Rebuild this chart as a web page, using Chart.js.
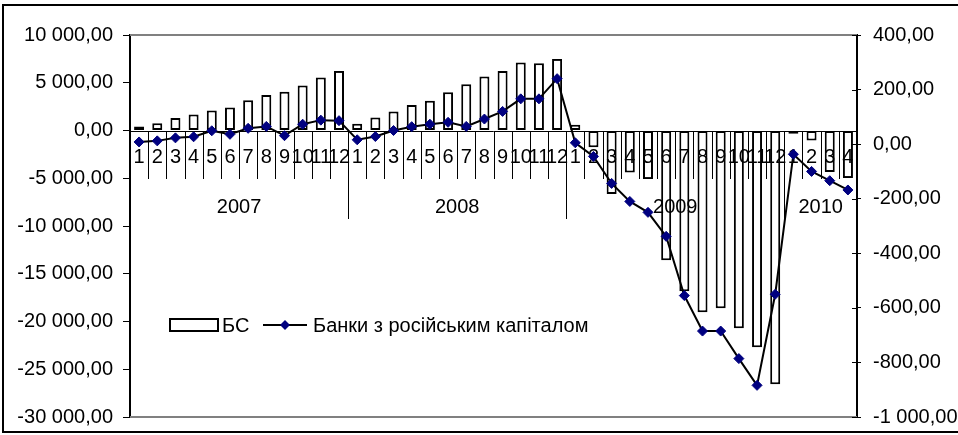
<!DOCTYPE html>
<html>
<head>
<meta charset="utf-8">
<script src="https://cdn.jsdelivr.net/npm/chart.js@4.4.1/dist/chart.umd.min.js"></script>
<style>
  html, body { margin: 0; padding: 0; background: #fff; }
  #wrap { width: 958px; height: 435px; }
</style>
</head>
<body>
<div id="wrap"><canvas id="chart" width="958" height="435"></canvas></div>
<script>
// month labels on the category axis, grouped by year
const months = [
    '1', '2', '3', '4', '5', '6', '7', '8', '9', '10', '11', '12',
    '1', '2', '3', '4', '5', '6', '7', '8', '9', '10', '11', '12',
    '1', '2', '3', '4', '5', '6', '7', '8', '9', '10', '11', '12',
    '1', '2', '3', '4'
];
const years = ['2007', '2008', '2009', '2010'];
const yearLengths = [12, 12, 12, 4];

const bsLabel = 'БС';
const bsValues = [
    420, 770, 1300, 1680, 2100, 2420, 3160, 3720, 4070, 4700, 5550, 6240,
    700, 1370, 2000, 2670, 3120, 4000, 4840, 5650, 6240, 7120, 7050, 7500,
    600, -1750, -6660, -4390, -5090, -13580, -16840, -19020, -18600, -20700, -22700, -26560,
    -350, -1050, -4350, -4980
];

const rusLabel = 'Банки з російським капіталом';
const rusValues = [
    8, 12, 23, 27, 49, 36, 58, 65, 31, 73, 88, 86,
    16, 28, 50, 64, 73, 80, 65, 92, 120, 166, 166, 240,
    5, -45, -144, -210, -250, -338, -555, -685, -685, -786, -884, -550,
    -37, -100, -134, -168
];

const FONT = '"Liberation Sans", Arial, sans-serif';
const NAVY = '#000080';

function fmt(v) {
    const parts = Math.abs(v).toFixed(2).split('.');
    const int = parts[0].replace(/\B(?=(\d{3})+(?!\d))/g, ' ');
    return (v < 0 ? '-' : '') + int + ',' + parts[1];
}

// category axis drawn at zero, between bars and line
const zeroAxis = {
    id: 'zeroAxis',
    afterDatasetDraw(chart, args) {
        if (args.meta.type !== 'bar') return;
        const ctx = chart.ctx;
        const xs = chart.scales.x;
        const area = chart.chartArea;
        const y0 = Math.round(chart.scales.y.getPixelForValue(0));
        const step = xs.getPixelForValue(1) - xs.getPixelForValue(0);

        ctx.save();
        ctx.strokeStyle = '#000';
        ctx.lineWidth = 1;
        ctx.beginPath();
        ctx.moveTo(area.left, y0 + 0.5);
        ctx.lineTo(area.right, y0 + 0.5);
        ctx.stroke();

        // separators
        let boundaries = [];
        let acc = 0;
        yearLengths.forEach(n => { acc += n; boundaries.push(acc); });
        for (let i = 1; i < months.length; i++) {
            const x = Math.round(xs.getPixelForValue(i) - step / 2) + 0.5;
            const long = boundaries.includes(i);
            ctx.beginPath();
            ctx.moveTo(x, y0);
            ctx.lineTo(x, y0 + (long ? 88 : 48));
            ctx.stroke();
        }

        ctx.fillStyle = '#000';
        ctx.font = '20px ' + FONT;
        ctx.textAlign = 'center';
        ctx.textBaseline = 'middle';
        months.forEach((m, i) => {
            ctx.fillText(m, xs.getPixelForValue(i), y0 + 26);
        });

        let start = 0;
        years.forEach((yr, k) => {
            const end = start + yearLengths[k] - 1;
            const xc = (xs.getPixelForValue(start) + xs.getPixelForValue(end)) / 2;
            ctx.fillText(yr, xc, y0 + 76);
            start = end + 1;
        });
        ctx.restore();
    }
};

const decor = {
    id: 'decor',
    beforeDraw(chart) {
        const ctx = chart.ctx;
        ctx.save();
        ctx.fillStyle = '#fff';
        ctx.fillRect(0, 0, chart.width, chart.height);
        ctx.restore();
    },
    beforeDatasetsDraw(chart) {
        const ctx = chart.ctx;
        const a = chart.chartArea;
        ctx.save();
        ctx.strokeStyle = '#808080';
        ctx.lineWidth = 2;
        ctx.beginPath();
        ctx.moveTo(a.left, a.top);
        ctx.lineTo(a.right, a.top);
        ctx.moveTo(a.left, a.bottom);
        ctx.lineTo(a.right, a.bottom);
        ctx.stroke();
        // inner half of the right axis cross ticks
        const y1 = chart.scales.y1;
        ctx.strokeStyle = '#000';
        ctx.lineWidth = 1;
        y1.ticks.forEach(t => {
            const y = Math.round(y1.getPixelForValue(t.value)) + 0.5;
            ctx.beginPath();
            ctx.moveTo(a.right - 5, y);
            ctx.lineTo(a.right, y);
            ctx.stroke();
        });
        ctx.restore();
    },
    afterDraw(chart) {
        const ctx = chart.ctx;
        ctx.save();
        // legend inside the plot
        const ly = 325;
        ctx.fillStyle = '#fff';
        ctx.strokeStyle = '#000';
        ctx.lineWidth = 2;
        ctx.fillRect(170, ly - 6, 48, 12);
        ctx.strokeRect(170, ly - 6, 48, 12);
        ctx.fillStyle = '#000';
        ctx.font = '20px ' + FONT;
        ctx.textAlign = 'left';
        ctx.textBaseline = 'middle';
        ctx.fillText(bsLabel, 222, ly + 1);
        ctx.beginPath();
        ctx.moveTo(263, ly);
        ctx.lineTo(307, ly);
        ctx.stroke();
        ctx.fillStyle = NAVY;
        ctx.beginPath();
        ctx.moveTo(285, ly - 5);
        ctx.lineTo(290, ly);
        ctx.lineTo(285, ly + 5);
        ctx.lineTo(280, ly);
        ctx.closePath();
        ctx.fill();
        ctx.fillStyle = '#000';
        ctx.fillText(rusLabel, 313, ly + 1);

        // outer frame
        ctx.lineWidth = 2;
        ctx.strokeRect(3, 5, 960, 427);
        ctx.restore();
    }
};

function fixWidth(w) {
    return scale => {
        scale.width = w;
        scale.paddingTop = 0;
        scale.paddingBottom = 0;
    };
}

new Chart(document.getElementById('chart'), {
    type: 'bar',
    data: {
        labels: months,
        datasets: [{
            type: 'bar',
            label: bsLabel,
            data: bsValues,
            yAxisID: 'y',
            order: 2,
            backgroundColor: '#fff',
            borderColor: '#000',
            borderWidth: 2,
            borderSkipped: false,
            categoryPercentage: 1,
            barPercentage: 0.55
        }, {
            type: 'line',
            label: rusLabel,
            data: rusValues,
            yAxisID: 'y1',
            order: 1,
            borderColor: '#000',
            borderWidth: 2,
            tension: 0,
            pointStyle: 'rectRot',
            pointRadius: 5,
            pointBackgroundColor: NAVY,
            pointBorderColor: NAVY,
            pointBorderWidth: 1
        }]
    },
    options: {
        responsive: false,
        animation: false,
        layout: { padding: { top: 35, bottom: 18, left: 0, right: 0 } },
        plugins: {
            legend: { display: false },
            tooltip: { enabled: false }
        },
        scales: {
            x: {
                type: 'category',
                display: false,
                offset: true
            },
            y: {
                position: 'left',
                min: -30000,
                max: 10000,
                afterFit: fixWidth(130),
                ticks: {
                    stepSize: 5000,
                    color: '#000',
                    padding: 10,
                    font: { family: FONT, size: 20 },
                    callback: v => fmt(v)
                },
                grid: { drawOnChartArea: false, drawTicks: true, tickLength: 7, color: '#000' },
                border: { display: true, color: '#000', width: 2 }
            },
            y1: {
                position: 'right',
                min: -1000,
                max: 400,
                afterFit: fixWidth(101),
                ticks: {
                    stepSize: 200,
                    color: '#000',
                    padding: 12,
                    font: { family: FONT, size: 20 },
                    callback: v => fmt(v)
                },
                grid: { drawOnChartArea: false, drawTicks: true, tickLength: 4, color: '#000' },
                border: { display: true, color: '#000', width: 2 }
            }
        }
    },
    plugins: [decor, zeroAxis]
});
</script>
</body>
</html>
